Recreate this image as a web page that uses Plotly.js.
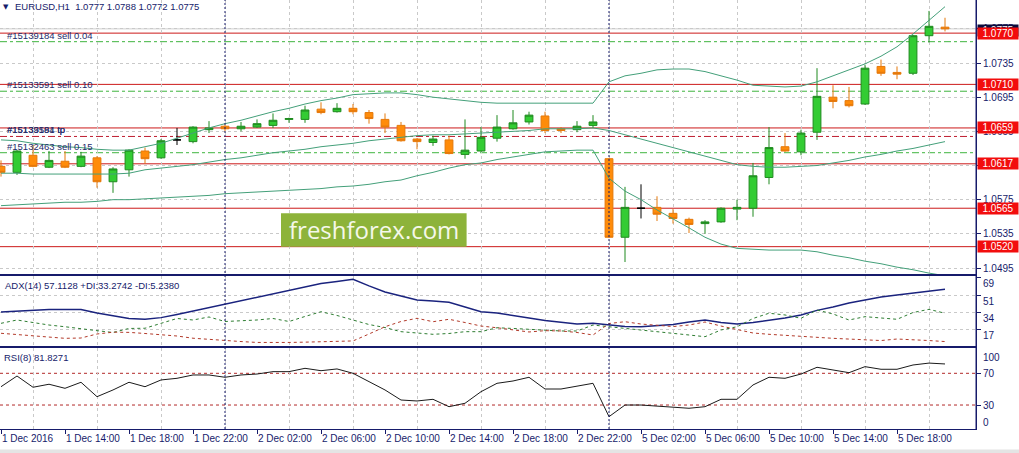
<!DOCTYPE html>
<html><head><meta charset="utf-8">
<script src="https://cdn.plot.ly/plotly-3.0.1.min.js"></script>
<style>html,body{margin:0;padding:0;background:#fff;overflow:hidden}#chart{width:1019px;height:453px}</style>
</head><body><div id="chart"></div>
<script>
// ---------- data ----------
const times = [
"1 Dec 10:00","1 Dec 11:00","1 Dec 12:00","1 Dec 13:00","1 Dec 14:00","1 Dec 15:00","1 Dec 16:00","1 Dec 17:00","1 Dec 18:00","1 Dec 19:00",
"1 Dec 20:00","1 Dec 21:00","1 Dec 22:00","1 Dec 23:00","2 Dec 00:00","2 Dec 01:00","2 Dec 02:00","2 Dec 03:00","2 Dec 04:00","2 Dec 05:00",
"2 Dec 06:00","2 Dec 07:00","2 Dec 08:00","2 Dec 09:00","2 Dec 10:00","2 Dec 11:00","2 Dec 12:00","2 Dec 13:00","2 Dec 14:00","2 Dec 15:00",
"2 Dec 16:00","2 Dec 17:00","2 Dec 18:00","2 Dec 19:00","2 Dec 20:00","2 Dec 21:00","2 Dec 22:00","2 Dec 23:00","5 Dec 00:00","5 Dec 01:00",
"5 Dec 02:00","5 Dec 03:00","5 Dec 04:00","5 Dec 05:00","5 Dec 06:00","5 Dec 07:00","5 Dec 08:00","5 Dec 09:00","5 Dec 10:00","5 Dec 11:00",
"5 Dec 12:00","5 Dec 13:00","5 Dec 14:00","5 Dec 15:00","5 Dec 16:00","5 Dec 17:00","5 Dec 18:00","5 Dec 19:00","5 Dec 20:00","5 Dec 21:00"];
const tickLabels = ["1 Dec 2016","1 Dec 14:00","1 Dec 18:00","1 Dec 22:00","2 Dec 02:00","2 Dec 06:00","2 Dec 10:00","2 Dec 14:00",
"2 Dec 18:00","2 Dec 22:00","5 Dec 02:00","5 Dec 06:00","5 Dec 10:00","5 Dec 14:00","5 Dec 18:00"];

const openP  = [1.0614,1.0607,1.0627,1.0613,1.0620,1.0614,1.0624,1.0596,1.0610,1.0632,1.0624,1.0645,1.0643,1.0657,1.0661,1.0658,1.0660,1.0662,1.0669,1.0669,
                1.0681,1.0678,1.0682,1.0677,1.0669,1.0662,1.0646,1.0642,1.0645,1.0628,1.0632,1.0647,1.0658,1.0666,1.0673,1.0658,1.0657,1.0662,1.0623,1.0531,
                1.0565,1.0566,1.0559,1.0552,1.0547,1.0549,1.0564,1.0565,1.0601,1.0637,1.0631,1.0654,1.0695,1.0691,1.0687,1.0731,1.0724,1.0723,1.0767,1.0777];
const highP  = [1.0621,1.0633,1.0639,1.0632,1.0632,1.0631,1.0626,1.0613,1.0634,1.0636,1.0646,1.0659,1.0661,1.0667,1.0663,1.0666,1.0669,1.0676,1.0671,1.0685,
                1.0689,1.0688,1.0687,1.0680,1.0676,1.0666,1.0647,1.0650,1.0650,1.0669,1.0660,1.0674,1.0680,1.0678,1.0678,1.0660,1.0667,1.0674,1.0624,1.0590,
                1.0593,1.0579,1.0564,1.0554,1.0551,1.0566,1.0575,1.0618,1.0660,1.0653,1.0657,1.0729,1.0709,1.0707,1.0733,1.0739,1.0731,1.0768,1.0796,1.0788];
const lowP   = [1.0602,1.0604,1.0613,1.0612,1.0612,1.0613,1.0589,1.0583,1.0602,1.0617,1.0623,1.0639,1.0641,1.0653,1.0655,1.0655,1.0659,1.0659,1.0665,1.0665,
                1.0675,1.0677,1.0675,1.0664,1.0653,1.0643,1.0634,1.0638,1.0628,1.0623,1.0631,1.0643,1.0657,1.0663,1.0653,1.0653,1.0654,1.0659,1.0530,1.0502,
                1.0553,1.0550,1.0547,1.0536,1.0535,1.0548,1.0551,1.0555,1.0593,1.0631,1.0627,1.0645,1.0682,1.0683,1.0686,1.0720,1.0716,1.0721,1.0759,1.0772];
const closeP = [1.0607,1.0632,1.0614,1.0621,1.0613,1.0626,1.0596,1.0611,1.0633,1.0623,1.0644,1.0645,1.0660,1.0659,1.0658,1.0661,1.0664,1.0668,1.0670,1.0680,
                1.0677,1.0682,1.0678,1.0670,1.0660,1.0644,1.0643,1.0646,1.0629,1.0633,1.0648,1.0660,1.0665,1.0674,1.0656,1.0656,1.0661,1.0666,1.0531,1.0566,
                1.0565,1.0558,1.0553,1.0546,1.0549,1.0565,1.0566,1.0603,1.0636,1.0632,1.0653,1.0696,1.0690,1.0685,1.0729,1.0723,1.0722,1.0767,1.0778,1.0775];

const bbUpper  = [1.0645,1.0644,1.0641,1.0639,1.0637,1.0636,1.0634,1.0633,1.0633,1.0637,1.0641,1.0647,1.0653,1.0659,1.0664,1.0668,1.0673,1.0678,1.0682,1.0687,
                  1.0691,1.0694,1.0698,1.0699,1.0700,1.0700,1.0698,1.0695,1.0693,1.0691,1.0689,1.0688,1.0688,1.0688,1.0688,1.0688,1.0688,1.0688,1.0713,1.0720,
                  1.0723,1.0727,1.0728,1.0728,1.0725,1.0720,1.0715,1.0709,1.0708,1.0707,1.0708,1.0713,1.0720,1.0727,1.0734,1.0743,1.0754,1.0769,1.0785,1.0801];
const bbMiddle = [1.0606,1.0606,1.0605,1.0605,1.0605,1.0605,1.0605,1.0605,1.0606,1.0610,1.0612,1.0614,1.0616,1.0619,1.0622,1.0624,1.0627,1.0630,1.0632,1.0634,
                  1.0637,1.0639,1.0641,1.0644,1.0646,1.0648,1.0650,1.0651,1.0651,1.0652,1.0653,1.0654,1.0655,1.0656,1.0658,1.0658,1.0658,1.0659,1.0656,1.0651,
                  1.0646,1.0641,1.0636,1.0631,1.0626,1.0621,1.0616,1.0614,1.0613,1.0613,1.0614,1.0615,1.0618,1.0621,1.0625,1.0628,1.0632,1.0635,1.0639,1.0643];
const bbLower  = [1.0568,1.0569,1.0570,1.0571,1.0572,1.0572,1.0573,1.0575,1.0575,1.0576,1.0577,1.0578,1.0579,1.0580,1.0582,1.0583,1.0584,1.0585,1.0586,1.0587,
                  1.0588,1.0590,1.0591,1.0593,1.0596,1.0598,1.0603,1.0607,1.0612,1.0616,1.0618,1.0622,1.0625,1.0628,1.0631,1.0632,1.0633,1.0633,1.0600,1.0585,
                  1.0575,1.0563,1.0552,1.0542,1.0531,1.0523,1.0518,1.0517,1.0516,1.0516,1.0516,1.0514,1.0510,1.0507,1.0503,1.0500,1.0496,1.0493,1.0489,1.0486];

const adx     = [34.5,35.5,36.5,37.0,37.0,37.0,33.5,30.6,28.1,27.3,28.9,32.1,35.5,39.0,42.2,45.9,49.2,52.7,56.1,59.5,
                 62.8,64.8,67.0,60.4,54.4,50.4,46.5,45.5,44.2,39.5,34.8,33.5,31.3,28.6,26.1,24.1,22.6,23.3,21.6,20.1,
                 19.9,20.8,22.1,24.6,26.6,24.1,22.6,24.1,26.1,28.6,31.6,36.2,39.5,43.5,46.5,49.4,51.4,53.4,55.4,57.1];
const plusDI  = [23.3,26.6,24.1,21.6,19.9,17.7,16.0,14.2,18.2,18.4,23.6,28.1,26.6,29.6,25.1,25.6,26.6,28.1,25.1,30.1,
                 34.8,31.1,26.6,22.1,19.1,15.0,13.7,12.4,13.2,15.0,15.0,18.9,18.2,17.2,16.4,15.7,15.7,21.6,19.9,18.4,
                 16.7,14.7,13.4,11.7,10.0,16.7,19.9,28.1,33.3,31.6,28.3,36.5,32.6,26.6,29.9,28.6,27.3,34.0,37.2,33.3];
const minusDI = [13.4,12.2,10.7,9.2,8.4,8.7,12.7,14.5,14.3,13.2,12.2,10.7,8.5,7.2,6.0,5.2,4.3,4.1,4.3,4.6,
                 4.8,5.1,5.8,12.7,19.9,25.1,28.3,24.9,27.3,24.1,20.6,18.9,16.7,14.7,16.0,15.7,14.2,11.7,23.1,24.9,
                 22.6,21.1,20.1,21.6,24.6,20.6,17.2,13.7,12.4,11.2,10.4,9.4,8.4,7.7,7.0,6.2,7.7,7.2,6.2,5.2];
const rsi     = [53.1,66.6,52.4,56.2,51.1,58.7,40.5,49.0,58.7,53.1,61.6,63.7,67.9,67.9,65.0,67.9,69.1,72.1,72.1,76.3,
                 73.3,75.5,70.0,59.4,49.0,36.3,35.1,37.2,27.9,32.2,46.8,57.4,60.3,65.0,50.2,50.2,54.0,57.4,15.3,30.0,
                 30.0,28.8,27.9,25.9,27.9,37.2,37.2,55.3,65.0,63.7,69.1,77.6,74.2,70.8,78.4,75.1,75.1,80.5,82.9,81.8];

const priceTicks = [1.0495,1.0535,1.0575,1.0615,1.0655,1.0695,1.0735,1.0775];
const levelPrices = [1.0770,1.0710,1.0659,1.0617,1.0565,1.0520];
const orderPrices = [1.0760,1.0702,1.0630];
const orderLabels = ["#15139184 sell 0.04","#15133591 sell 0.10","#15132463 sell 0.15"];
const tpPrices = [1.0649,1.0649];
const tpLabels = ["#15133591 tp","#15139184 tp"];
const bidPrice = 1.0775;
const adxTicks = [17,34,51,69];
const rsiLevels = [70,30];
const headerText = "EURUSD,H1  1.0777 1.0788 1.0772 1.0775";
const adxHeader = "ADX(14) 57.1128 +DI:33.2742 -DI:5.2380";
const rsiHeader = "RSI(8) 81.8271";
const logoText = "freshforex.com";

// ---------- styling ----------
const NAVY = "#161b6b", GRID = "#c9c9c9", FONT = "Liberation Sans, Arial, sans-serif";
const idx = times.map((t, i) => i);
const hourOf = t => parseInt(t.split(" ")[2], 10);
const labelIdx = idx.filter(i => hourOf(times[i]) % 4 === 2);
const gridIdx = idx.filter(i => hourOf(times[i]) % 4 === 0);
const sepIdx = idx.filter(i => hourOf(times[i]) === 0);
const isDoji = i => openP[i] === closeP[i];
const bodyIdx = idx.filter(i => !isDoji(i));
const dojiIdx = idx.filter(isDoji);
const pick = (arr, sel) => sel.map(i => arr[i]);

const traces = [
  {type:"scatter", mode:"lines", x:idx, y:bbUpper, line:{color:"#44a07a", width:1}, hoverinfo:"skip", xaxis:"x", yaxis:"y"},
  {type:"scatter", mode:"lines", x:idx, y:bbMiddle, line:{color:"#44a07a", width:1}, hoverinfo:"skip", xaxis:"x", yaxis:"y"},
  {type:"scatter", mode:"lines", x:idx, y:bbLower, line:{color:"#44a07a", width:1}, hoverinfo:"skip", xaxis:"x", yaxis:"y"},
  {type:"candlestick", x:pick(idx, bodyIdx), open:pick(openP, bodyIdx), high:pick(highP, bodyIdx), low:pick(lowP, bodyIdx), close:pick(closeP, bodyIdx),
   increasing:{line:{color:"#1f8a1f", width:1}, fillcolor:"#33cc33"},
   decreasing:{line:{color:"#e5780a", width:1}, fillcolor:"#ff8c0a"},
   whiskerwidth:0, hoverinfo:"skip", xaxis:"x", yaxis:"y"},
  {type:"candlestick", x:pick(idx, dojiIdx), open:pick(openP, dojiIdx), high:pick(highP, dojiIdx), low:pick(lowP, dojiIdx), close:pick(closeP, dojiIdx),
   increasing:{line:{color:"#000000", width:1}, fillcolor:"#000000"},
   decreasing:{line:{color:"#000000", width:1}, fillcolor:"#000000"},
   whiskerwidth:0, hoverinfo:"skip", xaxis:"x", yaxis:"y"},
  {type:"scatter", mode:"lines", x:idx, y:adx, line:{color:"#1a237e", width:1.4}, hoverinfo:"skip", xaxis:"x2", yaxis:"y2"},
  {type:"scatter", mode:"lines", x:idx, y:plusDI, line:{color:"#2e7d32", width:1, dash:"3px,3px"}, hoverinfo:"skip", xaxis:"x2", yaxis:"y2"},
  {type:"scatter", mode:"lines", x:idx, y:minusDI, line:{color:"#b23a2a", width:1, dash:"3px,3px"}, hoverinfo:"skip", xaxis:"x2", yaxis:"y2"},
  {type:"scatter", mode:"lines", x:idx, y:rsi, line:{color:"#1a1a1a", width:1}, hoverinfo:"skip", xaxis:"x3", yaxis:"y3"}
];

const shapes = [];
shapes.push({type:"line", xref:"paper", x0:0, x1:1, yref:"y", y0:bidPrice, y1:bidPrice, line:{color:"#cfcfcf", width:1}, layer:"below"});
levelPrices.forEach(p => shapes.push({type:"line", xref:"paper", x0:0, x1:1, yref:"y", y0:p, y1:p, line:{color:"#cc1a1a", width:1}, layer:"below"}));
orderPrices.forEach(p => shapes.push({type:"line", xref:"paper", x0:0, x1:1, yref:"y", y0:p, y1:p, line:{color:"#3fb53f", width:1, dash:"7px,3px,3px,3px"}, layer:"below"}));
tpPrices.forEach(p => shapes.push({type:"line", xref:"paper", x0:0, x1:1, yref:"y", y0:p, y1:p, line:{color:"#c0283a", width:1, dash:"7px,3px,3px,3px"}, layer:"below"}));
rsiLevels.forEach(v => shapes.push({type:"line", xref:"paper", x0:0, x1:1, yref:"y3", y0:v, y1:v, line:{color:"#b22a2a", width:1, dash:"3px,3px"}, layer:"below"}));
sepIdx.forEach(i => shapes.push({type:"line", xref:"x", x0:i, x1:i, yref:"paper", y0:0, y1:1, line:{color:NAVY, width:1, dash:"2px,2px"}}));
shapes.push({type:"line", xref:"paper", x0:1, x1:1, yref:"paper", y0:0, y1:1, line:{color:NAVY, width:1}});
// bottom window strip
shapes.push({type:"rect", xref:"paper", yref:"paper", x0:0, x1:1.05, y0:-0.0477, y1:-0.0580, fillcolor:"#e4e4e4", line:{width:0}});
// logo box
shapes.push({type:"rect", xref:"x", yref:"y", x0:17.5, x1:29.1, y0:1.05200, y1:1.05591, fillcolor:"#8db33a", line:{width:0}, layer:"above"});

const annotations = [];
annotations.push({xref:"x", yref:"y", x:23.3, y:1.05396, text:logoText, showarrow:false,
  font:{family:"Open Sans, Noto Sans, sans-serif", size:24, color:"#f5f8ea"}, xanchor:"center", yanchor:"middle"});
annotations.push({xref:"paper", yref:"paper", x:0, y:1, xanchor:"left", yanchor:"top", xshift:1, yshift:-1, text:"▼", showarrow:false,
  font:{family:"DejaVu Sans", size:7, color:NAVY}});
annotations.push({xref:"paper", yref:"paper", x:0, y:1, xanchor:"left", yanchor:"top", xshift:13, yshift:1, text:headerText, showarrow:false,
  font:{family:FONT, size:9.5, color:NAVY}});
annotations.push({xref:"paper", yref:"y2 domain", x:0, y:1, xanchor:"left", yanchor:"top", xshift:3, yshift:-2, text:adxHeader, showarrow:false,
  font:{family:FONT, size:9.5, color:NAVY}});
annotations.push({xref:"paper", yref:"y3 domain", x:0, y:1, xanchor:"left", yanchor:"top", xshift:2, yshift:-2, text:rsiHeader, showarrow:false,
  font:{family:FONT, size:9.5, color:NAVY}});
orderLabels.forEach((t, k) => annotations.push({xref:"paper", yref:"y", x:0, y:orderPrices[k], xanchor:"left", yanchor:"bottom", xshift:5, yshift:-1,
  text:t, showarrow:false, font:{family:FONT, size:9.5, color:"#252a6a"}}));
tpLabels.forEach((t, k) => annotations.push({xref:"paper", yref:"y", x:0, y:tpPrices[k], xanchor:"left", yanchor:"bottom", xshift:5, yshift:-1,
  text:t, showarrow:false, font:{family:FONT, size:9.5, color:"#252a6a"}}));
annotations.push({xref:"paper", yref:"y3", x:1, y:100, xanchor:"left", yanchor:"top", xshift:5, yshift:0, text:"100", showarrow:false,
  font:{family:FONT, size:10, color:NAVY}});
annotations.push({xref:"paper", yref:"y3", x:1, y:0, xanchor:"left", yanchor:"bottom", xshift:5, yshift:-1, text:"0", showarrow:false,
  font:{family:FONT, size:10, color:NAVY}});
annotations.push({xref:"paper", yref:"y2", x:1, y:0, xanchor:"left", yanchor:"bottom", xshift:5, yshift:3, text:"0", showarrow:false,
  font:{family:FONT, size:10, color:NAVY}});
// price boxes on the right axis
annotations.push({xref:"paper", yref:"y", x:1, y:bidPrice, xanchor:"left", yanchor:"middle", xshift:1, yshift:-2, text:bidPrice.toFixed(4), showarrow:false,
  bgcolor:"#0c0c3c", width:38, height:9, borderpad:1, font:{family:FONT, size:10, color:"#ffffff"}});
levelPrices.forEach(p => annotations.push({xref:"paper", yref:"y", x:1, y:p, xanchor:"left", yanchor:"middle", xshift:1, text:p.toFixed(4), showarrow:false,
  bgcolor:"#f20d0d", width:38, height:9, borderpad:1, font:{family:FONT, size:10, color:"#ffffff"}}));

const xr = [-0.0625, 60.9375];
const xbase = {range:xr, showgrid:false, zeroline:false, showline:true, linecolor:NAVY, linewidth:1,
  minor:{tickmode:"array", tickvals:gridIdx, showgrid:true, gridcolor:GRID, griddash:"3px,3px", gridwidth:1, ticks:""},
  rangeslider:{visible:false}, fixedrange:true};
const ybase = {side:"right", zeroline:false, showline:true, linecolor:NAVY, linewidth:1, ticks:"outside", ticklen:4, tickcolor:NAVY,
  tickfont:{family:FONT, size:10, color:NAVY}, fixedrange:true};

const layout = {
  width:1019, height:453, margin:{l:0, r:43, t:0, b:24}, paper_bgcolor:"#ffffff", plot_bgcolor:"#ffffff",
  showlegend:false, font:{family:FONT, size:10, color:NAVY},
  xaxis: Object.assign({}, xbase, {anchor:"y", showticklabels:false, ticks:"", mirror:false}),
  xaxis2: Object.assign({}, xbase, {anchor:"y2", matches:"x", showticklabels:false, ticks:"", mirror:true}),
  xaxis3: Object.assign({}, xbase, {anchor:"y3", matches:"x", mirror:true, tickmode:"array", tickvals:labelIdx, ticktext:tickLabels,
    ticks:"outside", ticklen:4, tickcolor:NAVY, ticklabelposition:"outside right", tickfont:{family:FONT, size:10, color:NAVY}}),
  yaxis: Object.assign({}, ybase, {anchor:"x", domain:[0.36014, 1], range:[1.04874, 1.08088], tickmode:"array", tickvals:priceTicks,
    tickformat:".4f", showgrid:true, gridcolor:GRID, griddash:"3px,3px"}),
  yaxis2: Object.assign({}, ybase, {anchor:"x2", domain:[0.19231, 0.35548], range:[0.28, 69.8], tickmode:"array", tickvals:adxTicks,
    ticklabelshift:6, showgrid:true, gridcolor:GRID, griddash:"3px,3px"}),
  yaxis3: Object.assign({}, ybase, {anchor:"x3", domain:[0, 0.18765], range:[-0.25, 101.3], tickmode:"array", tickvals:rsiLevels, showgrid:false}),
  shapes: shapes, annotations: annotations
};

Plotly.newPlot("chart", traces, layout, {staticPlot:true, displayModeBar:false});
</script></body></html>
